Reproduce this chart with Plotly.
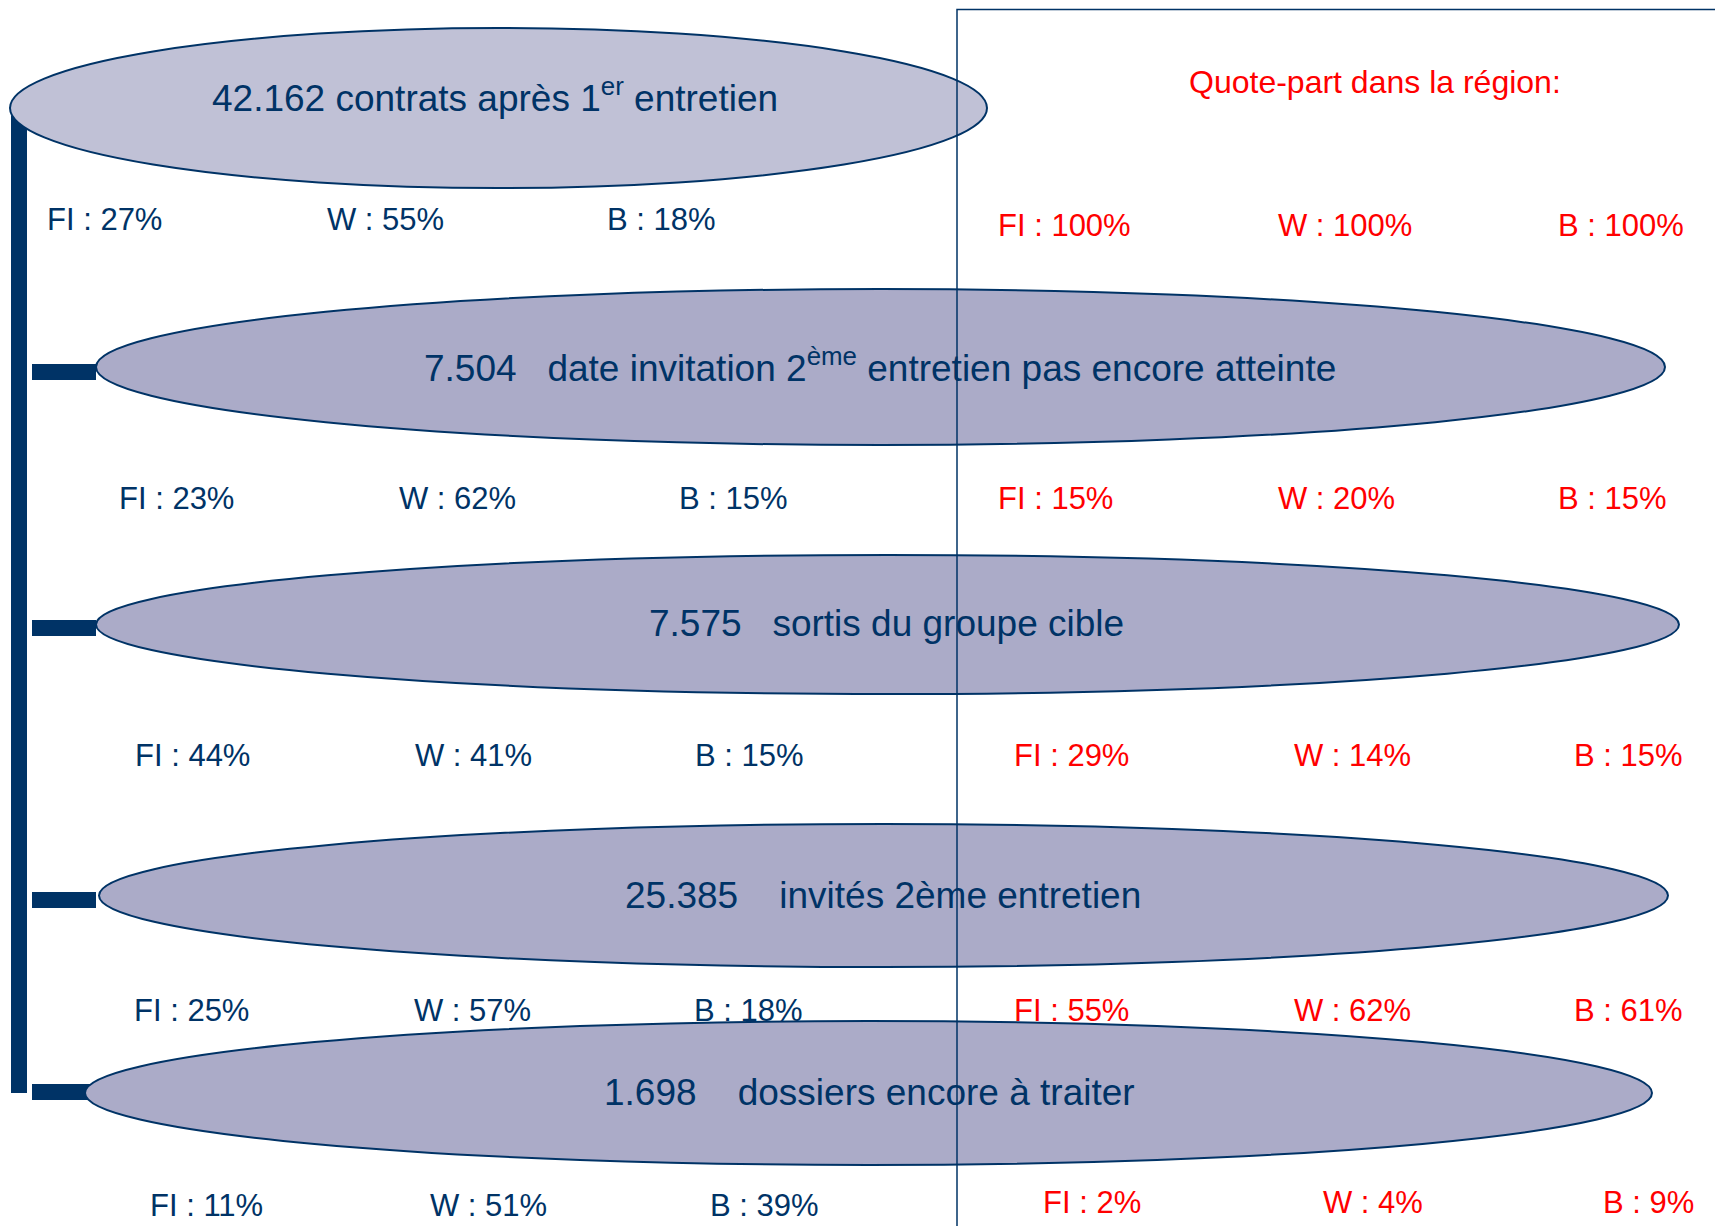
import plotly.graph_objects as go

# step totals and their labels
counts = ["42.162", "7.504", "7.575", "25.385", "1.698"]
labels = [
    "contrats après 1<sup>er</sup> entretien",
    "date invitation 2<sup>ème</sup> entretien pas encore atteinte",
    "sortis du groupe cible",
    "invités 2ème entretien",
    "dossiers encore à traiter",
]
gaps = [" ", "\u00a0\u00a0\u00a0", "\u00a0\u00a0\u00a0", "\u00a0\u00a0\u00a0\u00a0", "\u00a0\u00a0\u00a0\u00a0"]

# split by region (FI / W / B) for each step
fl_share = [27, 23, 44, 25, 11]
w_share = [55, 62, 41, 57, 51]
b_share = [18, 15, 15, 18, 39]

# quote-part in the region
fl_region = [100, 15, 29, 55, 2]
w_region = [100, 20, 14, 62, 4]
b_region = [100, 15, 15, 61, 9]

region_title = "Quote-part dans la région:"

NAVY = "#003366"
RED = "#FF0000"
FONT = "Arial, Liberation Sans, sans-serif"

# layout geometry (pixels, page coordinates)
ellipses = [(10, 987, 28, 188), (96, 1665, 289, 445), (96, 1679, 555, 694),
            (99, 1668, 824, 967), (85, 1652, 1021, 1165)]
fills = ["#C0C1D6", "#ABABC8", "#ABABC8", "#ABABC8", "#ABABC8"]
text_pos = [(495, 95), (880, 365), (886, 623), (883, 895), (869, 1092)]
connector_y = [372, 628, 900, 1092]
row_y_navy = [219, 498, 755, 1010, 1205]
row_y_red = [225, 498, 755, 1010, 1202]
navy_x0 = [45, 117, 133, 132, 148]
red_x0 = [996, 996, 1012, 1012, 1041]

# the page body has an 8px margin, so offset the axis ranges to keep page coords
OFF = 8

fig = go.Figure()
shapes = []
annotations = []

# frame on the right
shapes.append(dict(type="rect", x0=957, x1=1740, y0=9.5, y1=1240,
                   line=dict(color=NAVY, width=1.5), fillcolor="rgba(0,0,0,0)",
                   layer="above"))

# vertical bar + connectors
shapes.append(dict(type="rect", x0=11, x1=27, y0=116, y1=1093,
                   line=dict(width=0), fillcolor=NAVY, layer="below"))
for cy in connector_y:
    shapes.append(dict(type="rect", x0=32, x1=96, y0=cy - 8, y1=cy + 8,
                       line=dict(width=0), fillcolor=NAVY, layer="below"))

for i, (x0, x1, y0, y1) in enumerate(ellipses):
    shapes.append(dict(type="circle", x0=x0, x1=x1, y0=y0, y1=y1,
                       line=dict(color=NAVY, width=2), fillcolor=fills[i],
                       layer="below"))
    tx, ty = text_pos[i]
    annotations.append(dict(x=tx, y=ty, text=counts[i] + gaps[i] + labels[i],
                            showarrow=False, xanchor="center", yanchor="middle",
                            font=dict(family=FONT, size=37, color=NAVY)))

    navy_vals = [fl_share[i], w_share[i], b_share[i]]
    red_vals = [fl_region[i], w_region[i], b_region[i]]
    for j, name in enumerate(["FI", "W", "B"]):
        annotations.append(dict(x=navy_x0[i] + 280 * j, y=row_y_navy[i],
                                text=f"{name} : {navy_vals[j]}%", showarrow=False,
                                xanchor="left", yanchor="middle",
                                font=dict(family=FONT, size=31, color=NAVY)))
        annotations.append(dict(x=red_x0[i] + 280 * j, y=row_y_red[i],
                                text=f"{name} : {red_vals[j]}%", showarrow=False,
                                xanchor="left", yanchor="middle",
                                font=dict(family=FONT, size=31, color=RED)))

annotations.append(dict(x=1375, y=82, text=region_title, showarrow=False,
                        xanchor="center", yanchor="middle",
                        font=dict(family=FONT, size=32, color=RED)))

fig.update_layout(
    width=1723, height=1226,
    margin=dict(l=0, r=0, t=0, b=0),
    paper_bgcolor="white", plot_bgcolor="white",
    xaxis=dict(range=[OFF, 1723 + OFF], visible=False, fixedrange=True),
    yaxis=dict(range=[1226 + OFF, OFF], visible=False, fixedrange=True),
    shapes=shapes, annotations=annotations, showlegend=False,
)

fig.write_html("out.html")
